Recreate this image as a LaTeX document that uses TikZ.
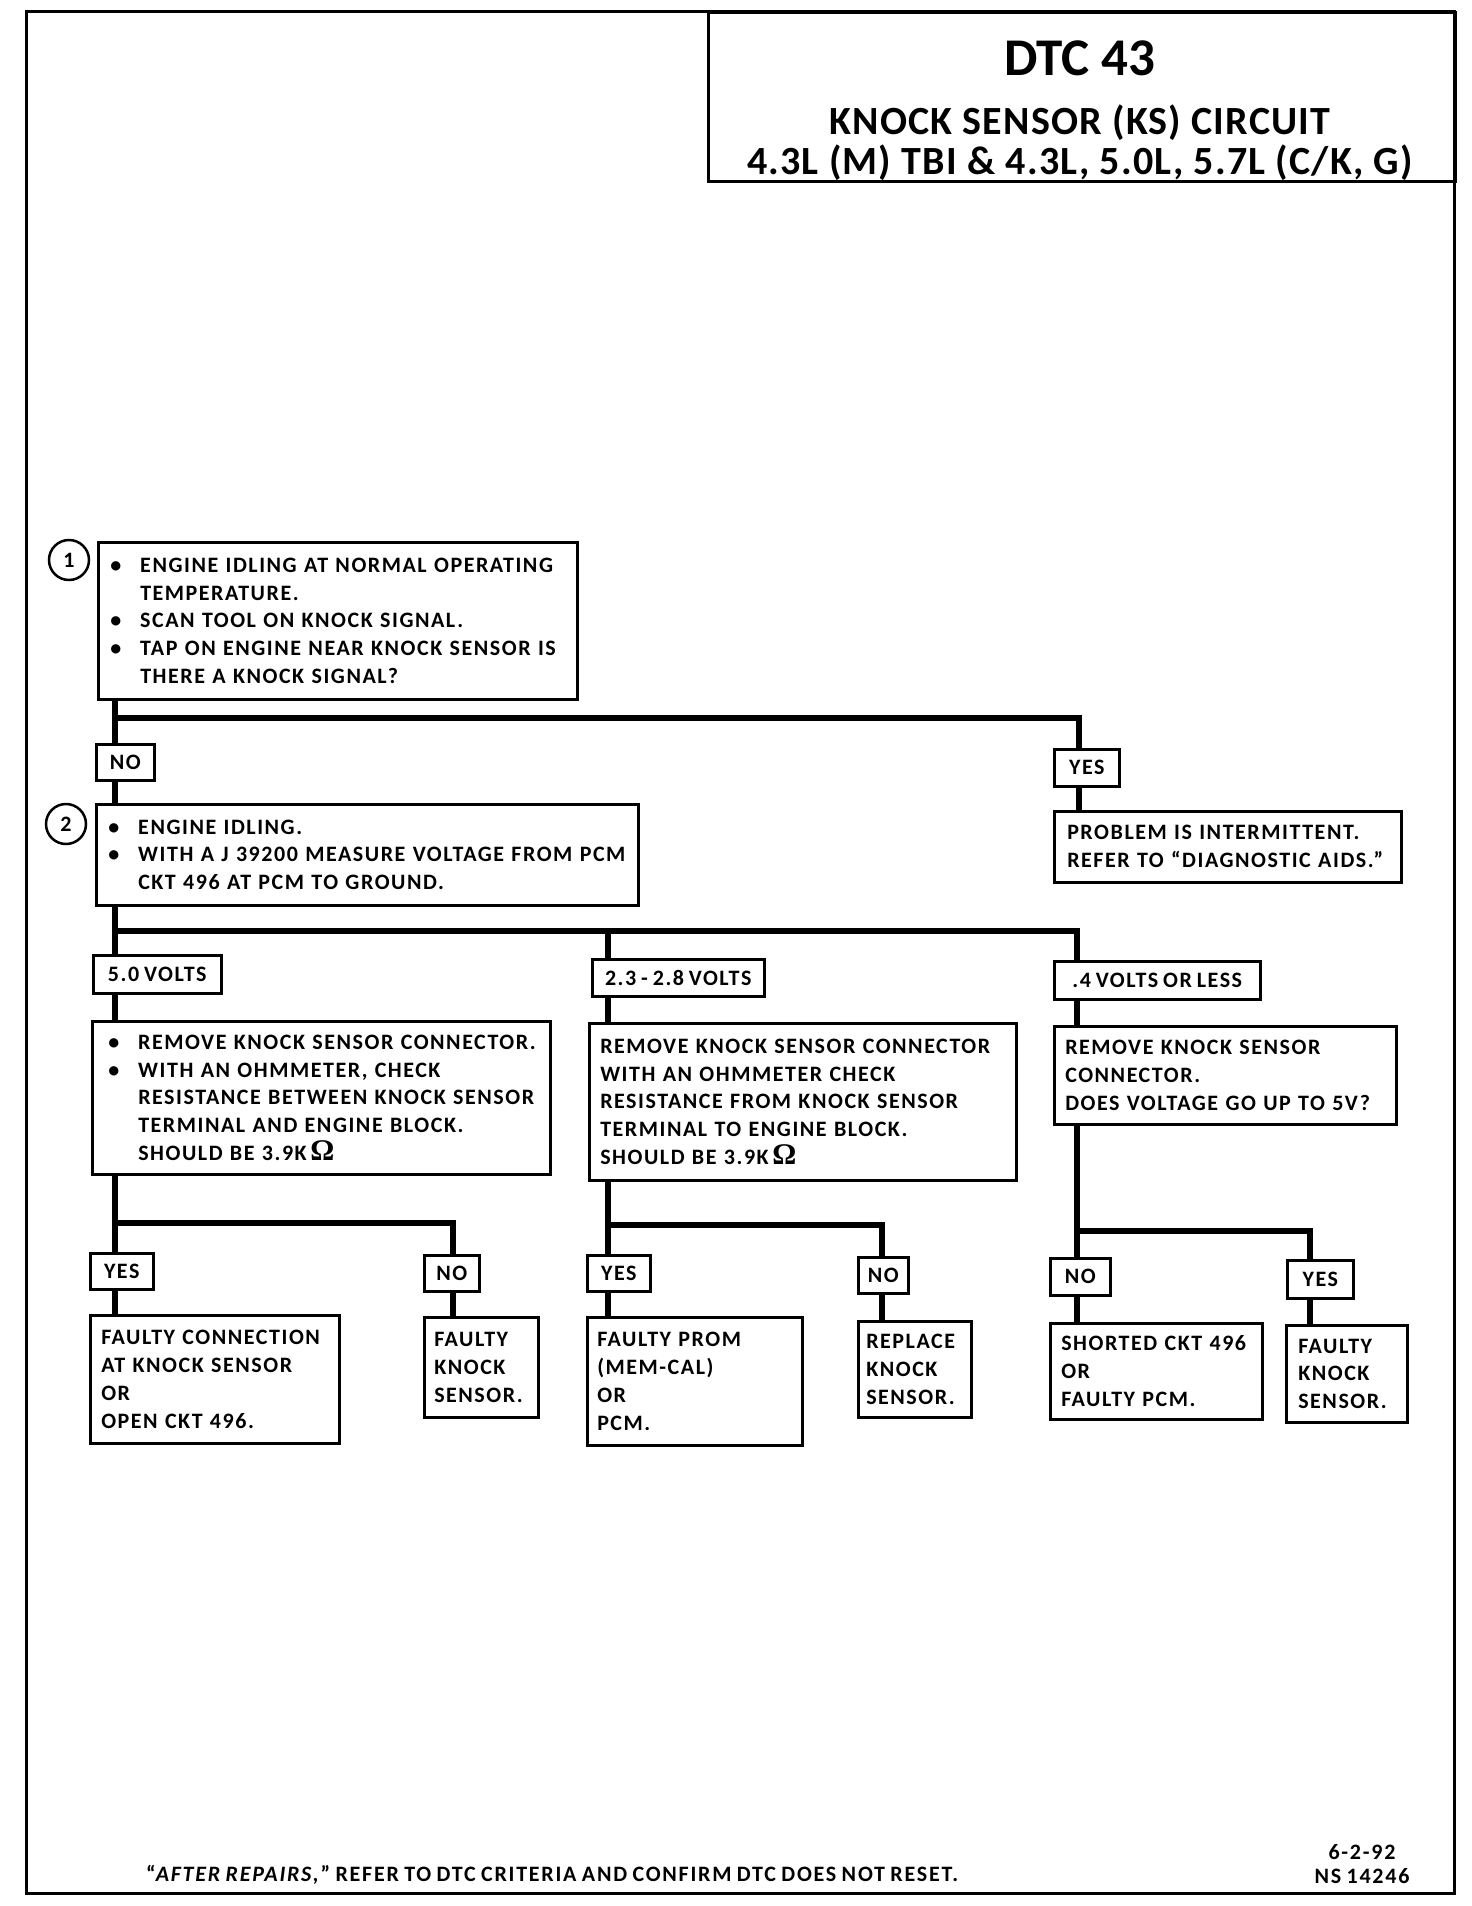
\documentclass[tikz,border=0pt]{standalone}
\usepackage{fontspec}
\setmainfont{Carlito}
\newfontfamily\bodyfont[LetterSpace=7,WordSpace=0.75]{Carlito}
\newfontfamily\titlefont[LetterSpace=3]{Carlito}
\newfontfamily\footfont[LetterSpace=8,WordSpace=0.8]{Carlito}
\newfontfamily\omegafont{Liberation Serif}
\newcommand\bul{\makebox[30pt][l]{\textbullet}}
\newcommand\ind{\hspace*{30pt}}
\newcommand\ohm{\,{\omegafont\bfseries\fontsize{30}{28}\selectfont Ω}}
\begin{document}
\begin{tikzpicture}[x=1pt,y=-1pt,
  frame/.style={draw, line width=3pt},
  box/.style={draw, line width=2.5pt, anchor=north west, inner ysep=0pt, align=left,
    font=\bodyfont\fontsize{22}{27.8}\selectfont\bfseries},
  lbl/.style={draw, line width=2.5pt, anchor=north west, inner sep=0pt,
    font=\bodyfont\fontsize{22}{26}\selectfont\bfseries},
  num/.style={draw, circle, line width=2.5pt, minimum size=40pt, inner sep=0pt,
    font=\bodyfont\fontsize{22}{26}\selectfont\bfseries},
  conn/.style={line width=6pt, line join=miter},
  ttl/.style={font=\titlefont\fontsize{40}{42}\selectfont\bfseries, anchor=base, inner sep=0pt}
]
\useasboundingbox (0,0) rectangle (1472,1906);
\fill[white] (0,0) rectangle (1472,1906);
% outer frame and title block
\draw[frame] (26,11) rectangle (1454,1893);
\node[draw, line width=3pt, anchor=north west, minimum width=747pt, minimum height=169pt, inner sep=0pt] (tb) at (707,11) {};
\node[ttl, font=\fontsize{53}{55}\selectfont\bfseries] (t1) at (1080,75) {DTC 43};
\node[ttl] (t2) at (1080,134) {KNOCK SENSOR (KS) CIRCUIT};
\node[ttl] (t3) at (1080,174) {4.3L (M) TBI \& 4.3L, 5.0L, 5.7L (C/K, G)};

% step 1
\node[num] (c1) at (69,560) {1};
\node[box, inner xsep=12pt, text width=455pt, minimum height=157pt] (b1) at (97,541)
 {\bul ENGINE IDLING AT NORMAL OPERATING\\ \ind TEMPERATURE.\\ \bul SCAN TOOL ON KNOCK SIGNAL.\\ \bul TAP ON ENGINE NEAR KNOCK SENSOR IS\\ \ind THERE A KNOCK SIGNAL?};
\node[lbl, minimum width=58pt, minimum height=36pt] (no1) at (95,743) {NO};
\node[lbl, minimum width=65pt, minimum height=37pt] (yes1) at (1053,748) {YES};
\node[box, inner xsep=13pt, text width=321pt, minimum height=71pt] (prob) at (1053,810)
 {PROBLEM IS INTERMITTENT.\\ REFER TO “DIAGNOSTIC AIDS.”};

% step 2
\node[num] (c2) at (66,824) {2};
\node[box, inner xsep=12pt, text width=518pt, minimum height=101pt] (b2) at (95,803)
 {\bul ENGINE IDLING.\\ \bul WITH A J 39200 MEASURE VOLTAGE FROM PCM\\ \ind CKT 496 AT PCM TO GROUND.};
\node[lbl, minimum width=128pt, minimum height=38pt] (v5) at (92,954) {5.0 VOLTS};
\node[lbl, minimum width=172pt, minimum height=37pt] (v23) at (591,958) {2.3 - 2.8 VOLTS};
\node[lbl, minimum width=206pt, minimum height=38pt] (v04) at (1053,960) {.4 VOLTS OR LESS};

% second-level boxes
\node[box, inner xsep=16pt, text width=426pt, minimum height=153pt] (bA) at (91,1020)
 {\bul REMOVE KNOCK SENSOR CONNECTOR.\\ \bul WITH AN OHMMETER, CHECK\\ \ind RESISTANCE BETWEEN KNOCK SENSOR\\ \ind TERMINAL AND ENGINE BLOCK.\\ \ind SHOULD BE 3.9K\ohm};
\node[box, inner xsep=11pt, text width=405pt, minimum height=157pt] (bB) at (588,1022)
 {REMOVE KNOCK SENSOR CONNECTOR\\ WITH AN OHMMETER CHECK\\ RESISTANCE FROM KNOCK SENSOR\\ TERMINAL TO ENGINE BLOCK.\\ SHOULD BE 3.9K\ohm};
\node[box, inner xsep=11pt, text width=320pt, minimum height=98pt] (bC) at (1053,1025)
 {REMOVE KNOCK SENSOR\\ CONNECTOR.\\ DOES VOLTAGE GO UP TO 5V?};

% third-level labels
\node[lbl, minimum width=63pt, minimum height=36pt] (yA) at (89,1252) {YES};
\node[lbl, minimum width=55pt, minimum height=36pt] (nA) at (423,1254) {NO};
\node[lbl, minimum width=63pt, minimum height=36pt] (yB) at (586,1254) {YES};
\node[lbl, minimum width=50pt, minimum height=36pt] (nB) at (857,1256) {NO};
\node[lbl, minimum width=60pt, minimum height=37pt] (nC) at (1049,1257) {NO};
\node[lbl, minimum width=66pt, minimum height=38pt] (yC) at (1286,1259) {YES};

% result boxes
\node[box, inner xsep=11pt, text width=227pt, minimum height=128pt] (fc) at (89,1314)
 {FAULTY CONNECTION\\ AT KNOCK SENSOR\\ OR\\ OPEN CKT 496.};
\node[box, inner xsep=10pt, text width=94pt, minimum height=100pt] (fks1) at (423,1316)
 {FAULTY\\ KNOCK\\ SENSOR.};
\node[box, inner xsep=10pt, text width=195pt, minimum height=128pt] (fp) at (586,1316)
 {FAULTY PROM\\ (MEM-CAL)\\ OR\\ PCM.};
\node[box, inner xsep=8pt, text width=97pt, minimum height=96pt] (rks) at (857,1320)
 {REPLACE\\ KNOCK\\ SENSOR.};
\node[box, inner xsep=11pt, text width=190pt, minimum height=96pt] (sc) at (1049,1322)
 {SHORTED CKT 496\\ OR\\ FAULTY PCM.};
\node[box, inner xsep=12pt, text width=97pt, minimum height=97pt] (fks2) at (1285,1324)
 {FAULTY\\ KNOCK\\ SENSOR.};

% footer
\node[anchor=base west, inner sep=0pt, font=\footfont\fontsize{22}{24}\selectfont\bfseries] (foot) at (146,1881)
 {“\textit{AFTER REPAIRS,}” REFER TO DTC CRITERIA AND CONFIRM DTC DOES NOT RESET.};
\node[anchor=base, inner sep=0pt, font=\footfont\fontsize{22}{24}\selectfont\bfseries] (date) at (1362,1859) {6-2-92};
\node[anchor=base, inner sep=0pt, font=\footfont\fontsize{22}{24}\selectfont\bfseries] (ns) at (1362,1883) {NS 14246};

% connector coordinates
\coordinate (j1) at (115,718);  \coordinate (j1r) at (1079,718);
\coordinate (j2) at (115,931);  \coordinate (j2m) at (608,931); \coordinate (j2r) at (1077,931);
\coordinate (jA) at (115,1223); \coordinate (jAr) at (453,1223);
\coordinate (jB) at (608,1225); \coordinate (jBr) at (882,1225);
\coordinate (jC) at (1077,1231); \coordinate (jCr) at (1310,1231);

% connectors
\draw[conn] (b1.south -| j1) -- (no1.north -| j1);
\draw[conn] (j1) -- (j1r) -- (yes1.north -| j1r);
\draw[conn] (no1.south -| j1) -- (b2.north -| j1);
\draw[conn] (yes1.south -| j1r) -- (prob.north -| j1r);

\draw[conn] (b2.south -| j2) -- (v5.north -| j2);
\draw[conn] (j2) -- (j2r) -- (v04.north -| j2r);
\draw[conn] (j2m) -- (v23.north -| j2m);
\draw[conn] (v5.south -| j2) -- (bA.north -| j2);
\draw[conn] (v23.south -| j2m) -- (bB.north -| j2m);
\draw[conn] (v04.south -| j2r) -- (bC.north -| j2r);

\draw[conn] (bA.south -| jA) -- (yA.north -| jA);
\draw[conn] (jA) -- (jAr) -- (nA.north -| jAr);
\draw[conn] (yA.south -| jA) -- (fc.north -| jA);
\draw[conn] (nA.south -| jAr) -- (fks1.north -| jAr);

\draw[conn] (bB.south -| jB) -- (yB.north -| jB);
\draw[conn] (jB) -- (jBr) -- (nB.north -| jBr);
\draw[conn] (yB.south -| jB) -- (fp.north -| jB);
\draw[conn] (nB.south -| jBr) -- (rks.north -| jBr);

\draw[conn] (bC.south -| jC) -- (nC.north -| jC);
\draw[conn] (jC) -- (jCr) -- (yC.north -| jCr);
\draw[conn] (nC.south -| jC) -- (sc.north -| jC);
\draw[conn] (yC.south -| jCr) -- (fks2.north -| jCr);
\end{tikzpicture}
\end{document}
